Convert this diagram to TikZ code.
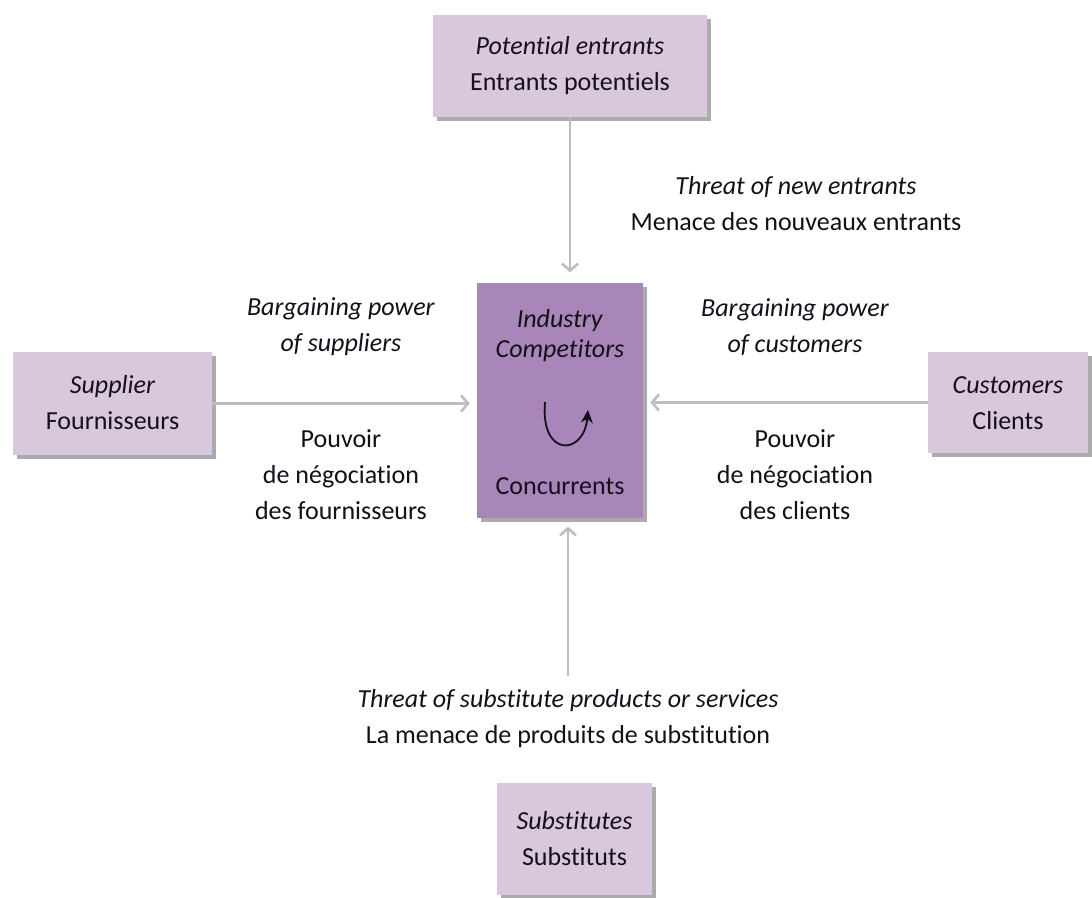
\documentclass[tikz,border=0pt]{standalone}
\usepackage{fontspec}
\setmainfont[Ligatures=NoCommon]{Carlito}
\usetikzlibrary{arrows.meta,shadows,positioning}
\definecolor{boxlight}{RGB}{217,199,221}
\definecolor{boxdark}{RGB}{168,134,186}
\definecolor{arrgray}{RGB}{190,190,190}
\definecolor{txt}{RGB}{20,15,25}
\tikzset{
  lbox/.style={fill=boxlight, draw=none, drop shadow={shadow xshift=4pt, shadow yshift=-4pt, opacity=0.55, fill=black!60}},
  dbox/.style={fill=boxdark, draw=none, drop shadow={shadow xshift=4pt, shadow yshift=-4pt, opacity=0.55, fill=black!60}},
  lbl/.style={align=center, text=txt, font=\fontsize{26}{36}\selectfont, inner sep=0pt},
  conn/.style={draw=arrgray, line width=2.6pt, -{Straight Barb[length=7pt,width=16pt,line width=2.6pt]}},
}
\begin{document}
\begin{tikzpicture}[x=1pt,y=-1pt]
\useasboundingbox[fill=white] (0,0) rectangle (1092,897);
% boxes
\node[lbox, minimum width=274pt, minimum height=102pt] (top) at (570,66) {};
\node[lbl] (topt) at (570,66) {\textit{Potential entrants}\\Entrants potentiels};
\node[dbox, minimum width=166pt, minimum height=235pt] (ctr) at (560,400) {};
\node[lbl] (ctra) at (560,336) {\textit{Industry}\\[-6pt]\textit{Competitors}};
\node[lbl] (ctrb) at (560,486) {Concurrents};
\node[lbox, minimum width=199pt, minimum height=103pt] (sup) at (112.5,403.5) {};
\node[lbl] (supt) at (112.5,403) {\textit{Supplier}\\Fournisseurs};
\node[lbox, minimum width=160pt, minimum height=101pt] (cus) at (1008,402.5) {};
\node[lbl] (cust) at (1008,403) {\textit{Customers}\\Clients};
\node[lbox, minimum width=155pt, minimum height=112pt] (subs) at (574.5,839) {};
\node[lbl] (subst) at (574.5,839) {\textit{Substitutes}\\Substituts};
% labels
\node[lbl] (threatnew) at (796,204) {\textit{Threat of new entrants}\\Menace des nouveaux entrants};
\node[lbl] (bps) at (341,327) {\textit{Bargaining power}\\\textit{of suppliers}};
\node[lbl] (pns) at (341,475) {Pouvoir\\de négociation\\des fournisseurs};
\node[lbl] (bpc) at (795,327) {\textit{Bargaining power}\\\textit{of customers}};
\node[lbl] (pnc) at (795,475) {Pouvoir\\de négociation\\des clients};
\node[lbl] (threatsub) at (568,719) {\textit{Threat of substitute products or services}\\La menace de produits de substitution};
% connectors
\draw[conn, shorten >=10pt] (top.south) -- (top.south |- ctr.north);
\draw[conn, shorten >=7pt] (sup.east) -- (sup.east -| ctr.west);
\draw[conn, shorten >=7pt] (cus.west) -- (cus.west -| ctr.east);
\draw[conn, shorten <=14pt, shorten >=9pt] (threatsub.north) -- (threatsub.north |- ctr.south);
% curved arrow inside centre
\coordinate (cs) at (545,402);
\coordinate (ce) at (588,410);
\draw[txt, line width=1.8pt, -{Stealth[length=13pt,width=12pt]}] (cs) .. controls (540,458) and (584,456) .. (ce);
\end{tikzpicture}
\end{document}
